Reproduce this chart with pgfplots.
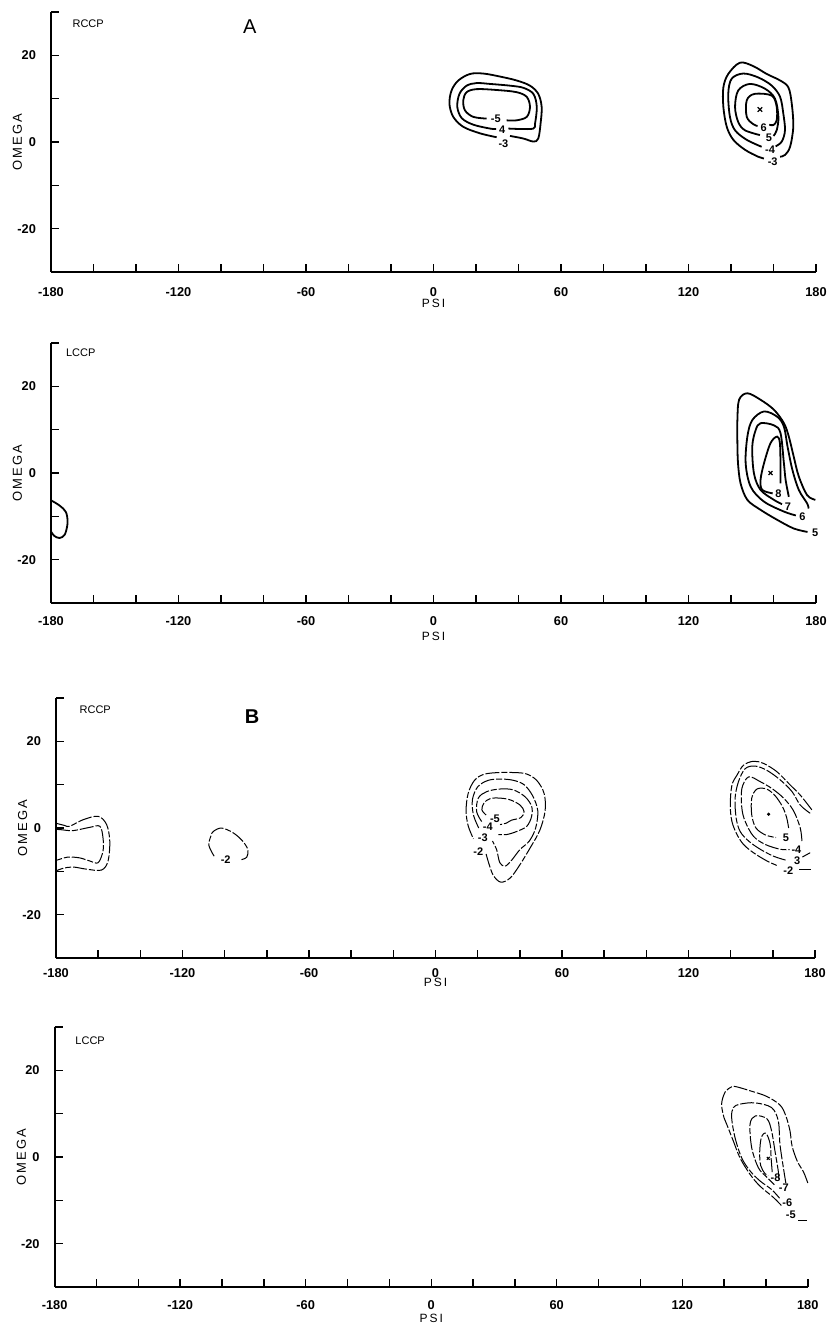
\documentclass[border=0pt]{standalone}
\usepackage{fontspec}
\setmainfont{Liberation Sans}
\usepackage{pgfplots}
\pgfplotsset{compat=1.18}
\pgfplotsset{
  panel/.style={scale only axis, height=130pt,
    xmin=-180, xmax=180, ymin=-30, ymax=30,
    axis x line=bottom, axis y line=left,
    axis line style={line width=0.9pt, -},
    clip=false,
    xtick={-180,-120,-60,0,60,120,180},
    xticklabels={-180,-120,-60,0,60,120,180},
    minor xtick={-160,-140,-100,-80,-40,-20,20,40,80,100,140,160},
    ytick={-20,0,20}, yticklabels={-20,0,20},
    minor ytick={-10,10},
    extra y ticks={30}, extra y tick labels={},
    tick align=inside, major tick length=4pt, minor tick length=4pt,
    tick style={black, line width=0.7pt},
    every tick label/.style={font=\fontsize{6.4}{7}\selectfont\bfseries},
    yticklabel style={xshift=-4pt},
    xlabel={P\,S\,I}, ylabel={O\,M\,E\,G\,A},
    every axis x label/.style={font=\fontsize{6}{7}\selectfont, anchor=center},
    every axis y label/.style={font=\fontsize{6.5}{7}\selectfont, anchor=center, rotate=90,
      at={(axis description cs:-0.044,0.5)}},
  },
  ca/.style={black, line width=0.9pt, smooth, tension=0.55, mark=none},
  cb/.style={black, line width=0.5pt, smooth, tension=0.55, mark=none,
    dash pattern=on 7pt off 1pt on 3pt off 1pt},
}
\tikzset{
  lab/.style={font=\fontsize{5.5}{6}\selectfont\bfseries, inner sep=0pt},
  ttl/.style={font=\fontsize{5.5}{6}\selectfont, inner sep=0pt},
}
\begin{document}
\begin{tikzpicture}
\path[use as bounding box] (0pt,0pt) rectangle (415pt,-662.5pt);

% ---------------- A, RCCP
\begin{axis}[panel, width=382.5pt, at={(25.5pt,-136pt)}, anchor=south west,
  xticklabel style={yshift=-4pt},
  every axis x label/.append style={at={(axis description cs:0.5,-0.122)}}]
\node[ttl] at (axis cs:-162.5,27.2) {RCCP};
\node[font=\fontsize{10}{11}\selectfont, inner sep=0pt] at (axis cs:-86.4,26.7) {A};
% cluster near psi 30
\addplot[ca] coordinates {(36,1.4) (42.3,0.8) (47,0.1) (49.3,0.8) (50.4,4.3) (50.9,8.1) (49.3,11.1) (45.4,13) (39.1,14.2) (31.3,15.1) (23.4,15.8) (17.2,15.7) (11.7,14.2) (8.5,11.9) (7.5,8.8) (9.3,5.8) (14,3.5) (21.9,2.0) (29.7,1.1)};
\addplot[ca] coordinates {(35.2,3.1) (41,3.0) (47,3.1) (47.8,4.3) (48.6,8.1) (47,11.1) (42.3,12.5) (36,13) (26.6,13.4) (20.3,13.6) (15.6,13) (12.2,11.1) (11.2,8.1) (13.3,5.5) (18.7,4.0) (26.6,3.1) (29.5,3.0)};
\addplot[ca] coordinates {(34.4,5.0) (39.1,5.0) (43.9,5.8) (45.4,8.1) (43.9,10.4) (39.1,11.5) (29.7,12) (20.3,12.2) (15.6,11.5) (14,9.6) (14.8,7.3) (18.7,5.8) (25,5.4)};
\node[lab] at (axis cs:29.3,5.4) {-5};
\node[lab] at (axis cs:32.3,2.8) {4};
\node[lab] at (axis cs:32.9,-0.4) {-3};
% cluster near psi 155
\addplot[ca] coordinates {(163.1,-3.4) (165.4,-3.0) (167.8,-1.1) (169.3,3.5) (168.6,8.8) (167,12.6) (163.1,14.2) (156.8,15.7) (150.5,17.5) (144.2,18.3) (138.7,15.7) (136.4,12.6) (136.4,8.1) (138,3.5) (141.1,0.5) (146.6,-1.8) (152.8,-3.4) (155.5,-3.8)};
\addplot[ca] coordinates {(161,-1.0) (163.9,0.1) (165.4,2.7) (164.6,6.6) (163.1,10.4) (159.2,13) (152.8,14.9) (145.8,15.8) (140.3,14.6) (138.7,11.1) (139.5,5.8) (141.9,2.7) (147.4,0.5) (154.4,-1.1)};
\addplot[ca] coordinates {(160,1.4) (161.5,2.7) (162.3,5.8) (160.7,10) (156,12.3) (148.9,13.4) (143.4,11.9) (141.9,8.1) (143.4,4.6) (146.6,2.7) (153.6,1.6)};
\addplot[ca] coordinates {(158,4.0) (159.9,3.9) (161.5,5.0) (161.5,8.1) (159.2,10.7) (151.1,11.1) (147.4,9.6) (147.4,5.8) (150.5,4.1) (152.5,3.7)};
\addplot[only marks, mark=x, mark size=1.6pt, black, line width=0.6pt] coordinates {(153.6,7.5)};
\node[lab] at (axis cs:155.4,3.4) {6};
\node[lab] at (axis cs:157.8,1.0) {5};
\node[lab] at (axis cs:158.4,-1.8) {-4};
\node[lab] at (axis cs:159.6,-4.6) {-3};
\end{axis}

% ---------------- A, LCCP
\begin{axis}[panel, width=382.5pt, at={(25.5pt,-301.5pt)}, anchor=south west,
  xticklabel style={yshift=-3pt},
  every axis x label/.append style={at={(axis description cs:0.5,-0.13)}}]
\node[ttl] at (axis cs:-166,27.7) {LCCP};
\addplot[ca] coordinates {(-180,-6.3) (-176,-7.5) (-173,-9) (-172.2,-11.5) (-173.5,-14.2) (-176,-15) (-178.5,-14.5) (-180,-13.5)};
\addplot[ca] coordinates {(179.7,-6.2) (175.8,-5.1) (171.9,-0.8) (169.5,3.8) (167.2,8.4) (164.9,11.5) (160.2,14.6) (153.9,16.9) (147.7,18.4) (143.8,16.9) (143,12.2) (143,7) (143.3,2.2) (144.5,-2.4) (147.7,-6.2) (153.9,-8.5) (161.7,-10.8) (169.5,-12.8) (176,-13.6)};
\addplot[ca] coordinates {(176.5,-8.2) (175.8,-7) (171.9,-3.9) (168.9,0.7) (166.6,6.1) (164.9,10.7) (161.7,13) (155.5,14.2) (150,12.2) (147.7,8.4) (146.9,2.2) (149.3,-3.2) (155.5,-6.6) (164.9,-8.9) (170.5,-9.8)};
\addplot[ca] coordinates {(167.2,-5.5) (165.7,-1.6) (164.9,2.2) (163.3,9.2) (160.2,11) (153.9,11.5) (151.6,9.9) (150,6.1) (150.8,-0.1) (153.9,-3.9) (160.2,-6.2) (164,-7.2)};
\addplot[ca] coordinates {(163.3,-2.4) (163.3,1.5) (163,6.9) (161.7,8.4) (158.6,6.9) (155.5,2.2) (153.9,-1.6) (154.7,-3.9) (159.6,-4.7)};
\addplot[only marks, mark=x, mark size=1.4pt, black, line width=0.6pt] coordinates {(158.6,0)};
\node[lab] at (axis cs:162.3,-4.8) {8};
\node[lab] at (axis cs:166.8,-7.7) {7};
\node[lab] at (axis cs:173.6,-10.1) {6};
\node[lab] at (axis cs:179.6,-13.8) {5};
\end{axis}

% ---------------- B, RCCP
\begin{axis}[panel, width=379.5pt, at={(28pt,-479pt)}, anchor=south west,
  xticklabel style={yshift=-1.5pt},
  every axis x label/.append style={at={(axis description cs:0.5,-0.095)}}]
\node[ttl] at (axis cs:-161.4,27.3) {RCCP};
\node[font=\fontsize{10}{11}\selectfont\bfseries, inner sep=0pt] at (axis cs:-87,25.6) {B};
% left edge
\addplot[cb] coordinates {(-180,1.1) (-176,0.6) (-173.5,0.4) (-167.2,1.9) (-160,2.7) (-156,0.8) (-154.5,-3) (-155.3,-7.6) (-158.4,-9.7) (-165.5,-9.5) (-171.9,-9.0) (-176.6,-9.3) (-180,-9.9)};
\addplot[cb] coordinates {(-180,-0.3) (-177.4,-0.4) (-171.9,-0.6) (-164,0.15) (-159.2,0.4) (-157.7,-2.3) (-157.7,-5.3) (-160,-8) (-164,-7.6) (-168.7,-6.9) (-174.3,-6.7) (-178.2,-7.2) (-180,-7.5)};
% psi -100
\addplot[cb] coordinates {(-105,-6.5) (-107.5,-4) (-106.5,-1.8) (-105.4,-0.8) (-101.5,0) (-96,-1.1) (-91.5,-3) (-89,-5) (-89.5,-6.7) (-92,-7.3)};
\node[lab] at (axis cs:-99.5,-7.3) {-2};
% psi 30
\addplot[cb] coordinates {(24,3) (22,4.2) (23,5.8) (26,6.8) (30.6,6.9) (35.4,6.5) (40.1,5.3) (42,3.8) (40.5,2.4) (36,1.8) (33.5,1.1) (30.6,0.8)};
\addplot[cb] coordinates {(21.9,1.5) (19.5,3.8) (20.3,6.9) (24.3,8.4) (30.6,9.0) (36.9,8.8) (42.5,7.2) (45.6,5.0) (45.6,2.7) (43.3,0.4) (38.5,-0.8) (33.8,-1.5) (29.8,-1.5)};
\addplot[cb] coordinates {(20.5,0) (18,3) (17.5,6.5) (20,9.5) (25,11) (31,11.3) (37,11) (42,10) (46,7.5) (48.5,4) (47.5,0) (44.5,-3) (40,-5) (36,-7.5) (33,-8.8) (30.5,-8) (29,-5) (27,-3)};
\addplot[cb] coordinates {(24,-6) (25.5,-8.5) (27.5,-11) (31,-12.5) (35.5,-11.5) (40,-8.5) (45,-4.5) (49.5,-0.5) (52,4) (51.5,8) (48,11) (43,12.5) (37,12.8) (30,12.8) (23,12.4) (18.5,11) (15.5,8) (14.5,4) (15.5,0.5) (18,-2.5)};
\node[lab] at (axis cs:28.2,2.1) {-5};
\node[lab] at (axis cs:24.8,0.2) {-4};
\node[lab] at (axis cs:22.4,-2.3) {-3};
\node[lab] at (axis cs:20.3,-5.4) {-2};
% psi 160
\addplot[cb] coordinates {(178.5,4.2) (173,7.6) (168.3,9.9) (161.9,13) (155.6,14.9) (150.8,15.4) (146.1,14.5) (143,12.2) (140.6,9.9) (139.8,5.3) (140.6,1.5) (143,-1.5) (146.1,-3.8) (150.8,-5.7) (157.2,-7.6) (162.7,-8.8)};
\addplot[cb] coordinates {(172.5,-9.5) (178,-9.5)};
\addplot[cb] coordinates {(177.7,3.4) (173,5.3) (169.1,8.4) (163.5,11.1) (157.2,13.3) (151.6,14.3) (146.9,13.7) (143.7,10.7) (142.1,6.9) (142.6,2.3) (144.5,-0.8) (148.5,-3) (154,-4.9) (160.3,-6.5) (166,-7.4)};
\addplot[cb] coordinates {(174,-6.7) (177.7,-5.7)};
\addplot[cb] coordinates {(173.8,-3) (173,0) (169.8,4) (165.1,6.9) (159.6,9.1) (154,10.7) (148.5,11.8) (145.3,9.1) (145.3,4.6) (146.9,1.5) (150.8,-1.9) (156.4,-3.8) (163.5,-4.9) (168,-5)};
\addplot[cb] coordinates {(167.5,0) (166.5,2.5) (164.5,5) (161,7.5) (157,9) (152.5,9) (150,6.9) (150,3) (152,0) (156.5,-1.6) (161.5,-2.2)};
\addplot[only marks, mark=*, mark size=0.6pt, black] coordinates {(158,3.2)};
\node[lab] at (axis cs:166.2,-2.2) {5};
\node[lab] at (axis cs:171.2,-4.9) {-4};
\node[lab] at (axis cs:171.6,-7.6) {3};
\node[lab] at (axis cs:167.3,-9.9) {-2};
\end{axis}

% ---------------- B, LCCP
\begin{axis}[panel, width=376.6pt, at={(27.3pt,-643.5pt)}, anchor=south west,
  xticklabel style={yshift=-3pt},
  every axis x label/.append style={at={(axis description cs:0.5,-0.122)}}]
\node[ttl] at (axis cs:-163,26.8) {LCCP};
\addplot[cb] coordinates {(180,-6) (178,-3.5) (175,-1) (172.5,2.5) (171.5,6) (169.5,9.5) (166.7,12) (160.3,14) (153,15.2) (146,16.2) (143.6,16.2) (140.5,15) (138.8,12.2) (140,9) (141.2,7.6) (144.4,3.7) (147.6,-0.2) (152.4,-4) (157.1,-6.7) (163.5,-9.3) (168,-11.5)};
\addplot[cb] coordinates {(169.5,-6) (168.5,-3) (166.7,2.9) (165.9,8.3) (162.7,11.4) (154.8,12.5) (147.6,12.2) (144.4,11.4) (143.6,9.1) (145.2,4.5) (148.4,-0.2) (152.4,-3.2) (157.1,-5.5) (162.7,-7.5) (166.5,-9.5)};
\addplot[cb] coordinates {(166,-5) (165.9,-3.3) (164.3,1.4) (162.7,6.0) (160.5,8.8) (155,9.5) (152.4,7.6) (153.2,2.1) (156.4,-2.5) (160.3,-4.6) (164,-6.4)};
\addplot[cb] coordinates {(163,-3.5) (162.5,-0.5) (162,3) (160,5.5) (157.8,4.5) (157,1) (157.5,-2) (159.5,-3.8) (161,-4.3)};
\addplot[only marks, mark=x, mark size=1pt, black, line width=0.5pt] coordinates {(161.1,-0.3)};
\addplot[cb] coordinates {(175.5,-14.6) (179.5,-14.6)};
\node[lab] at (axis cs:164.6,-4.7) {-8};
\node[lab] at (axis cs:168.5,-7.1) {-7};
\node[lab] at (axis cs:170.2,-10.5) {-6};
\node[lab] at (axis cs:171.9,-13.3) {-5};
\end{axis}
\end{tikzpicture}
\end{document}
